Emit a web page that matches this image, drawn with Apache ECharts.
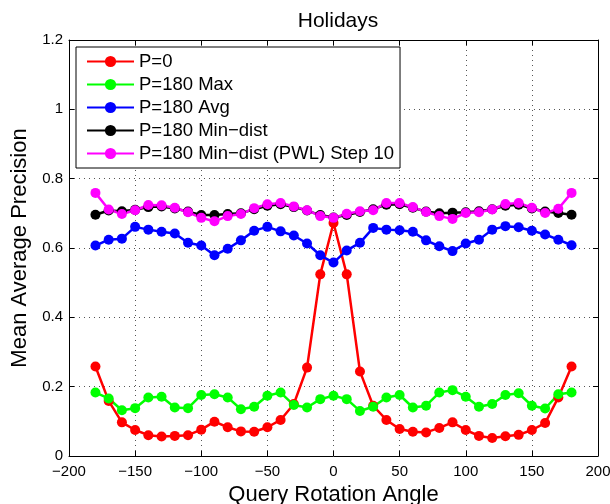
<!DOCTYPE html>
<html>
<head>
<meta charset="utf-8">
<script src="https://cdn.jsdelivr.net/npm/echarts@6/dist/echarts.min.js"></script>
<style>html,body{margin:0;padding:0;background:#fff;}#c{width:610px;height:504px;}</style>
</head>
<body>
<div id="c"></div>
<script>
const angles = [-180,-170,-160,-150,-140,-130,-120,-110,-100,-90,-80,-70,-60,-50,-40,-30,-20,-10,0,10,20,30,40,50,60,70,80,90,100,110,120,130,140,150,160,170,180];
const p0 = [0.258,0.159,0.097,0.075,0.060,0.056,0.058,0.060,0.076,0.099,0.083,0.071,0.070,0.083,0.104,0.150,0.255,0.524,0.672,0.524,0.244,0.145,0.104,0.078,0.070,0.068,0.081,0.097,0.075,0.058,0.052,0.057,0.061,0.075,0.095,0.169,0.258];
const p180Max = [0.183,0.166,0.132,0.138,0.169,0.171,0.140,0.138,0.176,0.178,0.169,0.135,0.142,0.174,0.183,0.147,0.140,0.164,0.174,0.164,0.130,0.142,0.169,0.176,0.140,0.145,0.183,0.190,0.171,0.142,0.150,0.176,0.181,0.145,0.137,0.178,0.183];
const p180Avg = [0.607,0.624,0.627,0.661,0.653,0.647,0.642,0.615,0.607,0.579,0.598,0.622,0.650,0.661,0.648,0.636,0.613,0.579,0.558,0.593,0.615,0.658,0.653,0.651,0.647,0.622,0.605,0.591,0.613,0.624,0.653,0.663,0.660,0.650,0.639,0.624,0.608];
const p180MinDist = [0.696,0.708,0.706,0.710,0.718,0.720,0.714,0.705,0.695,0.695,0.698,0.700,0.712,0.722,0.726,0.718,0.708,0.695,0.688,0.695,0.704,0.712,0.725,0.726,0.716,0.705,0.700,0.702,0.703,0.706,0.712,0.722,0.725,0.714,0.705,0.701,0.696];
const p180PWL = [0.759,0.711,0.698,0.709,0.724,0.723,0.716,0.703,0.687,0.677,0.692,0.698,0.715,0.726,0.730,0.720,0.709,0.692,0.687,0.699,0.706,0.709,0.730,0.730,0.718,0.704,0.692,0.684,0.701,0.703,0.711,0.727,0.730,0.716,0.701,0.713,0.759];
const xTicks = [-200,-150,-100,-50,0,50,100,150,200];
const yTicks = [0,0.2,0.4,0.6,0.8,1,1.2];

const FONT = 'Liberation Sans';
function mk(name, data, color) {
  return {
    name: name, type: 'line',
    data: angles.map((a, i) => [a, data[i]]),
    symbol: 'circle', symbolSize: 10,
    lineStyle: { color: color, width: 2.5 },
    itemStyle: { color: color },
    emphasis: { disabled: true },
    animation: false
  };
}
const grid = { left: 69, right: 12, top: 40, bottom: 48, outerBoundsMode: 'none', containLabel: false };
const axisLineStyle = { show: true, onZero: false, lineStyle: { color: '#000', width: 1 } };
const tickStyle = { show: true, inside: true, length: 5, lineStyle: { color: '#000' } };
const chart = echarts.init(document.getElementById('c'), null, { renderer: 'canvas' });
chart.setOption({
  backgroundColor: '#fff',
  animation: false,
  title: {
    text: 'Holidays', left: 333, top: 6, textAlign: 'center',
    textStyle: { fontFamily: FONT, fontSize: 21, fontWeight: 'normal', color: '#000' }
  },
  legend: {
    orient: 'vertical', left: 76, top: 47,
    backgroundColor: '#fff', borderColor: '#000', borderWidth: 1,
    padding: [5, 6, 5, 10], itemGap: 4, itemWidth: 47, itemHeight: 14,
    textStyle: { fontFamily: FONT, fontSize: 18.5, lineHeight: 19, color: '#000' },
    data: ['P=0', 'P=180 Max', 'P=180 Avg', 'P=180 Min\u2212dist', 'P=180 Min\u2212dist (PWL) Step 10']
  },
  grid: grid,
  xAxis: [{
    type: 'value', min: -200, max: 200, interval: 50,
    name: 'Query Rotation Angle', nameLocation: 'middle', nameGap: 25,
    nameTextStyle: { fontFamily: FONT, fontSize: 22, color: '#000' },
    axisLine: axisLineStyle, axisTick: tickStyle,
    axisLabel: { fontFamily: FONT, fontSize: 15, color: '#000', margin: 8,
      formatter: v => String(v).replace('-', '\u2212') },
    splitLine: { show: true, lineStyle: { color: '#555', type: [1, 4], width: 1 } }
  }, {
    type: 'value', min: -200, max: 200, interval: 50, position: 'top',
    axisLine: axisLineStyle, axisTick: tickStyle,
    axisLabel: { show: false }, splitLine: { show: false }
  }],
  yAxis: [{
    type: 'value', min: 0, max: 1.2, interval: 0.2,
    name: 'Mean Average Precision', nameLocation: 'middle', nameGap: 33,
    nameTextStyle: { fontFamily: FONT, fontSize: 22, color: '#000' },
    axisLine: axisLineStyle, axisTick: tickStyle,
    axisLabel: { fontFamily: FONT, fontSize: 15, color: '#000', margin: 6,
      formatter: v => String(Math.round(v * 10) / 10) },
    splitLine: { show: true, lineStyle: { color: '#555', type: [1, 4], width: 1 } }
  }, {
    type: 'value', min: 0, max: 1.2, interval: 0.2, position: 'right',
    axisLine: axisLineStyle, axisTick: tickStyle,
    axisLabel: { show: false }, splitLine: { show: false }
  }],
  series: [
    mk('P=0', p0, '#ff0000'),
    mk('P=180 Max', p180Max, '#00ff00'),
    mk('P=180 Avg', p180Avg, '#0000ff'),
    mk('P=180 Min\u2212dist', p180MinDist, '#000000'),
    mk('P=180 Min\u2212dist (PWL) Step 10', p180PWL, '#ff00ff')
  ]
});
</script>
</body>
</html>
